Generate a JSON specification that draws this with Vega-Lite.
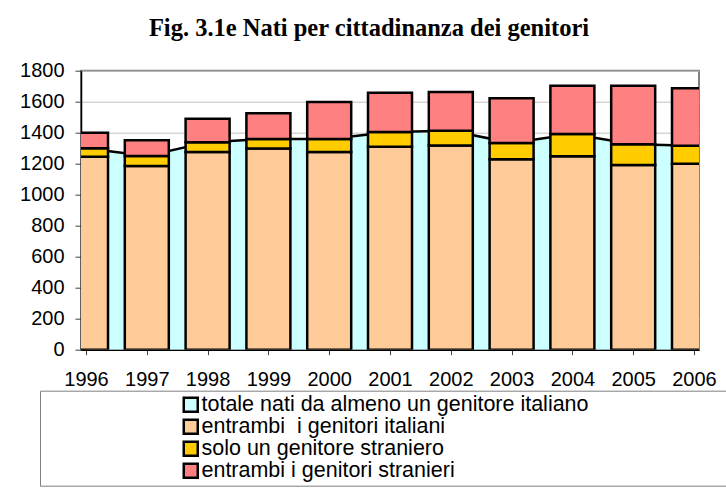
{
  "$schema": "https://vega.github.io/schema/vega-lite/v6.json",
  "autosize": "none",
  "width": 618,
  "height": 279,
  "padding": {"left": 81, "top": 70.7, "right": 27, "bottom": 152},
  "background": "white",
  "title": {
    "text": "Fig. 3.1e Nati per cittadinanza dei genitori",
    "font": "Liberation Serif",
    "fontWeight": "bold",
    "fontSize": 24.5,
    "color": "black",
    "anchor": "middle",
    "frame": "group",
    "baseline": "alphabetic",
    "offset": 0,
    "dx": -21
  },
  "config": {
    "view": {"stroke": "#808080", "strokeWidth": 2},
    "axis": {
      "labelFont": "Liberation Sans",
      "labelFontSize": 20,
      "labelColor": "black",
      "domainColor": "black",
      "domainWidth": 1.5,
      "tickColor": "#404040",
      "title": null
    }
  },
  "data": {
    "values": [
      {"year": 1996, "entrambi_italiani": 1245, "almeno_un_italiano": 1300, "totale": 1400},
      {"year": 1997, "entrambi_italiani": 1185, "almeno_un_italiano": 1250, "totale": 1352},
      {"year": 1998, "entrambi_italiani": 1276, "almeno_un_italiano": 1339, "totale": 1490},
      {"year": 1999, "entrambi_italiani": 1298, "almeno_un_italiano": 1360, "totale": 1526},
      {"year": 2000, "entrambi_italiani": 1276, "almeno_un_italiano": 1360, "totale": 1598},
      {"year": 2001, "entrambi_italiani": 1309, "almeno_un_italiano": 1404, "totale": 1658},
      {"year": 2002, "entrambi_italiani": 1317, "almeno_un_italiano": 1412, "totale": 1662},
      {"year": 2003, "entrambi_italiani": 1229, "almeno_un_italiano": 1334, "totale": 1623},
      {"year": 2004, "entrambi_italiani": 1248, "almeno_un_italiano": 1391, "totale": 1703},
      {"year": 2005, "entrambi_italiani": 1192, "almeno_un_italiano": 1326, "totale": 1703},
      {"year": 2006, "entrambi_italiani": 1199, "almeno_un_italiano": 1315, "totale": 1686}
    ]
  },
  "encoding": {
    "x": {
      "field": "year",
      "type": "quantitative",
      "scale": {"domain": [1996, 2006], "nice": false, "zero": false},
      "axis": {
        "values": [1996, 1997, 1998, 1999, 2000, 2001, 2002, 2003, 2004, 2005, 2006],
        "format": "d",
        "grid": false,
        "tickSize": 5,
        "labelPadding": 15,
        "labelFlush": false,
        "labelOverlap": false
      }
    },
    "y": {
      "field": "almeno_un_italiano",
      "type": "quantitative",
      "scale": {"domain": [0, 1800], "nice": false},
      "axis": {
        "values": [0, 200, 400, 600, 800, 1000, 1200, 1400, 1600, 1800],
        "tickCount": 10,
        "format": "d",
        "labelOverlap": false,
        "labelFlush": false,
        "grid": true,
        "gridColor": "#c0c0c0",
        "gridWidth": 1,
        "tickSize": 6,
        "labelPadding": 11
      }
    }
  },
  "layer": [
    {
      "mark": {"type": "area", "clip": true, "opacity": 1},
      "encoding": {
        "color": {
          "datum": "totale nati da almeno un genitore italiano",
          "type": "nominal",
          "scale": {
            "domain": [
              "totale nati da almeno un genitore italiano",
              "entrambi \u00a0i genitori italiani",
              "solo un genitore straniero",
              "entrambi i genitori stranieri"
            ],
            "range": ["#CCFFFF", "#FFCC99", "#FFCC00", "#FF8080"]
          },
          "legend": {
            "title": "\u00a0",
            "titleOrient": "right",
            "titlePadding": 134,
            "orient": "none",
            "legendX": -41,
            "legendY": 320,
            "padding": 4,
            "symbolOffset": 136,
            "strokeColor": "#808080",
            "fillColor": "white",
            "symbolType": "square",
            "symbolSize": 196,
            "symbolStrokeColor": "black",
            "symbolStrokeWidth": 2.5,
            "symbolOpacity": 1,
            "labelFont": "Liberation Sans",
            "labelFontSize": 21.5,
            "labelColor": "black",
            "labelOffset": 0,
            "labelLimit": 0,
            "clipHeight": 20,
            "rowPadding": 0
          }
        }
      }
    },
    {
      "mark": {"type": "line", "color": "black", "strokeWidth": 2.5, "clip": true},
      "encoding": {}
    },
    {
      "mark": {"type": "bar", "size": 44, "stroke": "black", "strokeWidth": 2.5, "clip": true, "opacity": 1},
      "encoding": {
        "y": {
          "field": "entrambi_italiani",
          "type": "quantitative",
          "axis": {
            "values": [0, 200, 400, 600, 800, 1000, 1200, 1400, 1600, 1800],
            "tickCount": 10,
            "format": "d",
            "labelOverlap": false,
            "labelFlush": false,
            "grid": true,
            "gridColor": "#c0c0c0",
            "gridWidth": 1,
            "tickSize": 6,
            "labelPadding": 11
          }
        },
        "color": {"datum": "entrambi \u00a0i genitori italiani", "type": "nominal"}
      }
    },
    {
      "mark": {"type": "bar", "size": 44, "stroke": "black", "strokeWidth": 2.5, "clip": true, "opacity": 1},
      "encoding": {
        "y": {
          "field": "entrambi_italiani",
          "type": "quantitative",
          "axis": {
            "values": [0, 200, 400, 600, 800, 1000, 1200, 1400, 1600, 1800],
            "tickCount": 10,
            "format": "d",
            "labelOverlap": false,
            "labelFlush": false,
            "grid": true,
            "gridColor": "#c0c0c0",
            "gridWidth": 1,
            "tickSize": 6,
            "labelPadding": 11
          }
        },
        "y2": {"field": "almeno_un_italiano"},
        "color": {"datum": "solo un genitore straniero", "type": "nominal"}
      }
    },
    {
      "mark": {"type": "bar", "size": 44, "stroke": "black", "strokeWidth": 2.5, "clip": true, "opacity": 1},
      "encoding": {
        "y2": {"field": "totale"},
        "color": {"datum": "entrambi i genitori stranieri", "type": "nominal"}
      }
    }
  ]
}
